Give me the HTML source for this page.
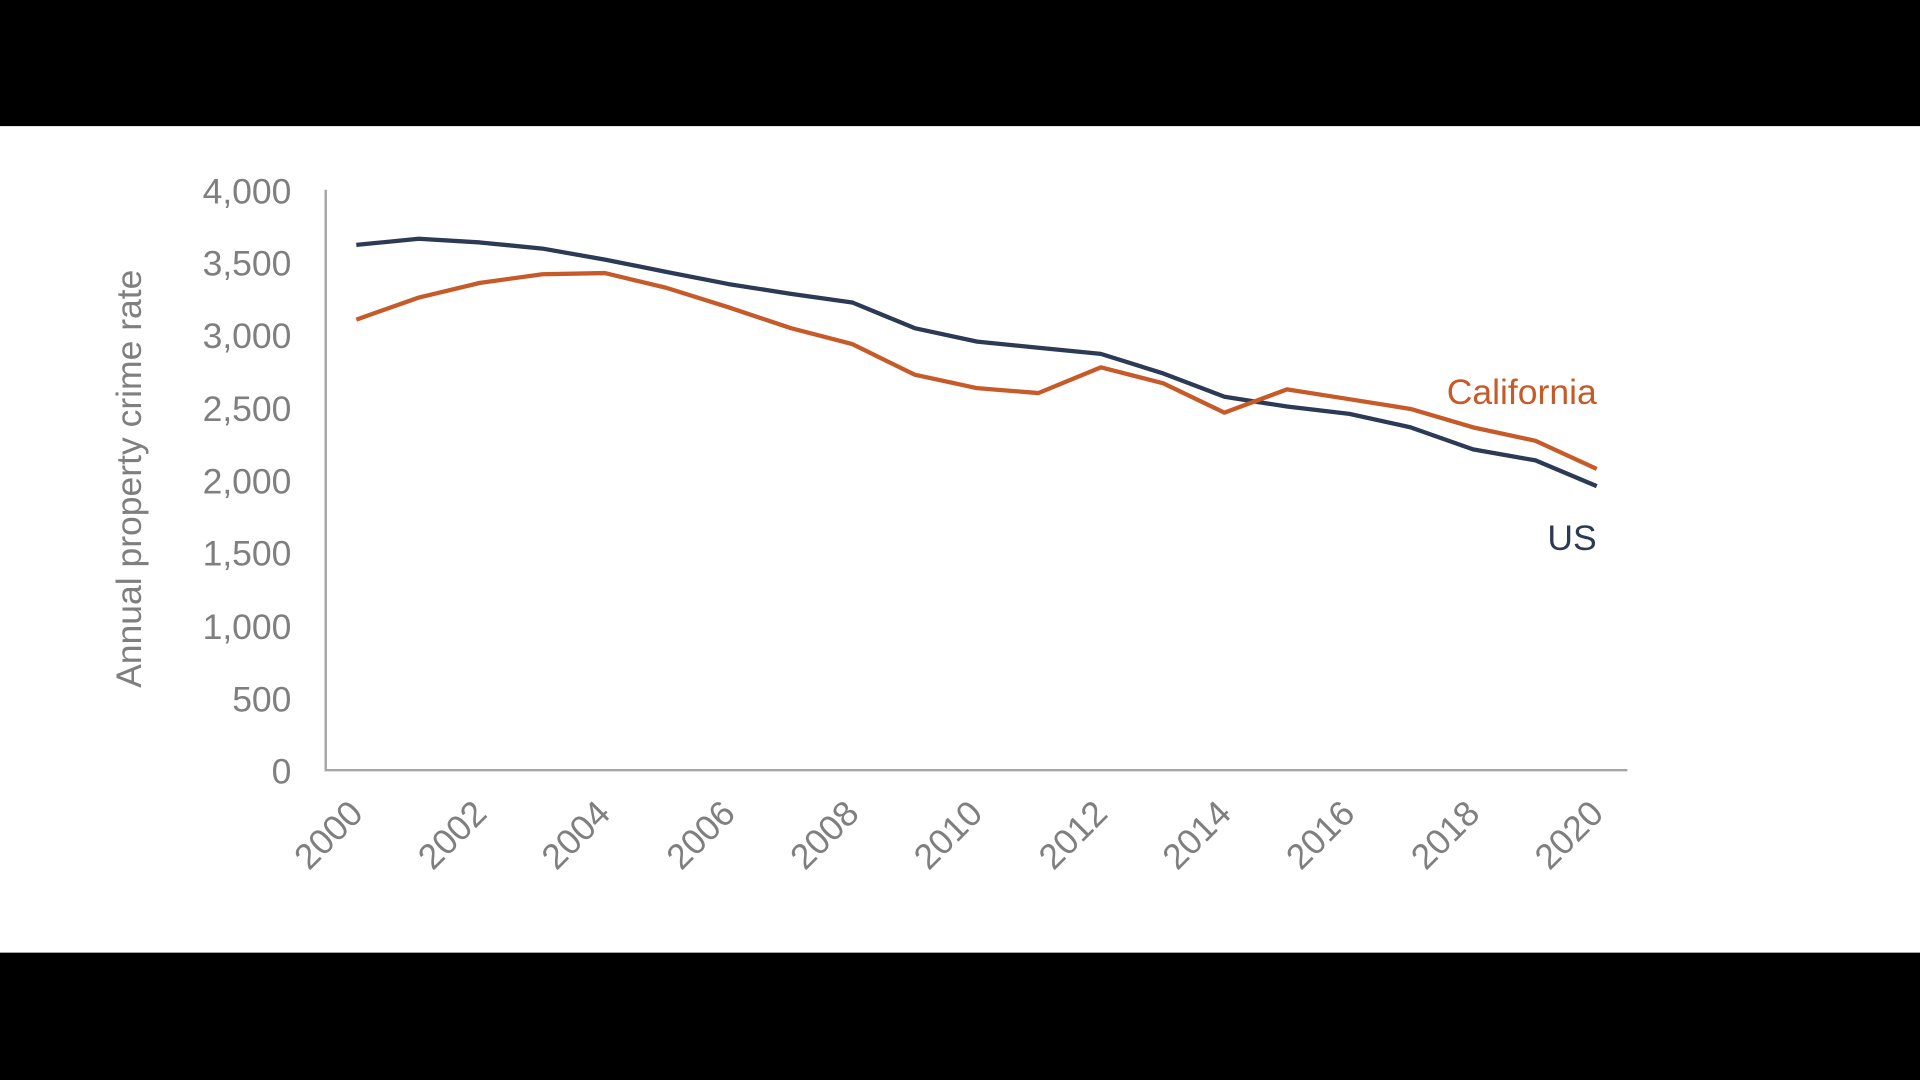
<!DOCTYPE html>
<html><head><meta charset="utf-8"><style>
html,body{margin:0;padding:0;background:#000;width:1920px;height:1080px;overflow:hidden}
svg{display:block}
text{font-family:"Liberation Sans",Arial,sans-serif}
</style></head><body>
<svg width="1920" height="1080" viewBox="0 0 1568 882" xmlns="http://www.w3.org/2000/svg">
<rect x="0" y="0" width="1568" height="882" fill="#000"/>
<rect x="0" y="103" width="1568" height="675" fill="#fff"/>
<g stroke="#a6a6a6" stroke-width="2" fill="none">
<line x1="266" y1="155" x2="266" y2="630"/>
<line x1="266" y1="629" x2="1329" y2="629"/>
</g>
<g fill="#7f7f7f" font-size="29" text-anchor="end">
<text x="238" y="166">4,000</text>
<text x="238" y="225">3,500</text>
<text x="238" y="284">3,000</text>
<text x="238" y="344">2,500</text>
<text x="238" y="403">2,000</text>
<text x="238" y="462">1,500</text>
<text x="238" y="522">1,000</text>
<text x="238" y="581">500</text>
<text x="238" y="640">0</text>
</g>
<text transform="translate(115,391) rotate(-90)" fill="#7f7f7f" font-size="29" text-anchor="middle">Annual property crime rate</text>
<g fill="#7f7f7f" font-size="29" text-anchor="end">
<text transform="translate(298,666) rotate(-45)">2000</text>
<text transform="translate(399,666) rotate(-45)">2002</text>
<text transform="translate(500,666) rotate(-45)">2004</text>
<text transform="translate(602,666) rotate(-45)">2006</text>
<text transform="translate(703,666) rotate(-45)">2008</text>
<text transform="translate(804,666) rotate(-45)">2010</text>
<text transform="translate(906,666) rotate(-45)">2012</text>
<text transform="translate(1007,666) rotate(-45)">2014</text>
<text transform="translate(1108,666) rotate(-45)">2016</text>
<text transform="translate(1210,666) rotate(-45)">2018</text>
<text transform="translate(1311,666) rotate(-45)">2020</text>
</g>
<polyline fill="none" stroke="#2c3a55" stroke-width="3.5" stroke-linejoin="round" points="291,200 342,195 392,198 443,203 494,212 544,222 595,232 646,240 696,247 747,268 798,279 848,284 899,289 950,305 1000,324 1051,332 1102,338 1152,349 1203,367 1254,376 1304,397"/>
<polyline fill="none" stroke="#c65a28" stroke-width="3.5" stroke-linejoin="round" points="291,261 342,243 392,231 443,224 494,223 544,235 595,251 646,268 696,281 747,306 798,317 848,321 899,300 950,313 1000,337 1051,318 1102,326 1152,334 1203,349 1254,360 1304,383"/>
<text x="1304" y="330" fill="#c65a28" font-size="29" text-anchor="end">California</text>
<text x="1304" y="449" fill="#2c3a55" font-size="29" text-anchor="end">US</text>
</svg>
</body></html>
